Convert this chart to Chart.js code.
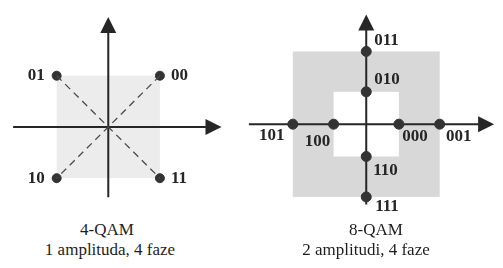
<!DOCTYPE html>
<html>
<head>
<meta charset="utf-8">
<script src="https://cdn.jsdelivr.net/npm/chart.js@4.4.1/dist/chart.umd.min.js"></script>
<style>
    body { margin: 0; background: #fff; width: 503px; height: 268px; position: relative; overflow: hidden; font-family: "Liberation Serif", "Times New Roman", serif; }
    canvas { position: absolute; top: 0; }
    #qam4Chart { left: 0; }
    #qam8Chart { left: 240px; }
    .caption { position: absolute; text-align: center; font-size: 17px; line-height: 20px; color: #1e1e1e; white-space: nowrap; width: 200px; }
</style>
</head>
<body>
<canvas id="qam4Chart" width="250" height="215"></canvas>
<canvas id="qam8Chart" width="263" height="220"></canvas>
<div class="caption" style="left:7px;top:220px">4-QAM</div>
<div class="caption" style="left:10px;top:240px">1 amplituda, 4 faze</div>
<div class="caption" style="left:276px;top:220px">8-QAM</div>
<div class="caption" style="left:266px;top:240px">2 amplitudi, 4 faze</div>

<script>
// Data: 4-QAM constellation (1 amplitude, 4 phases)
const qam4Labels = ['01', '00', '10', '11'];
const qam4I = [-1, 1, -1, 1];
const qam4Q = [1, 1, -1, -1];
const qam4Amps = [1];

// Data: 8-QAM constellation (2 amplitudes, 4 phases)
const qam8Labels = ['011', '010', '101', '100', '000', '001', '110', '111'];
const qam8I = [0, 0, -2.25, -1, 1, 2.25, 0, 0];
const qam8Q = [2.25, 1, 0, 0, 0, 0, -1, -2.25];
const qam8Amps = [1, 2.25];

// Label placement (pixels relative to point)
const qam4LabelPos = [
    { dx: -12, dy: 0, align: 'right' }, { dx: 11, dy: 0, align: 'left' },
    { dx: -12, dy: 0, align: 'right' }, { dx: 11, dy: 0, align: 'left' }
];
const qam8LabelPos = [
    { dx: 8, dy: -11, align: 'left' }, { dx: 8, dy: -12, align: 'left' },
    { dx: -21, dy: 11, align: 'center' }, { dx: -16, dy: 17, align: 'center' },
    { dx: 16, dy: 12, align: 'center' }, { dx: 19, dy: 12, align: 'center' },
    { dx: 7, dy: 14, align: 'left' }, { dx: 9, dy: 10, align: 'left' }
];

const toPoints = (xs, ys) => xs.map((x, i) => ({ x: x, y: ys[i] }));

// draws shaded squares, axes with arrows and bit labels
const constellationPlugin = {
    id: 'constellation',
    beforeDatasetsDraw(chart, args, opts) {
        const ctx = chart.ctx;
        const sx = chart.scales.x, sy = chart.scales.y;
        ctx.save();
        // squares, biggest first, alternating gray / white
        const amps = opts.amps.slice().sort((a, b) => b - a);
        amps.forEach((a, i) => {
            ctx.fillStyle = i % 2 === 0 ? opts.fill : '#ffffff';
            const l = sx.getPixelForValue(-a), r = sx.getPixelForValue(a);
            const t = sy.getPixelForValue(a), b = sy.getPixelForValue(-a);
            ctx.fillRect(l, t, r - l, b - t);
        });
        // axes
        const x0 = sx.getPixelForValue(0), y0 = sy.getPixelForValue(0);
        const xl = sx.getPixelForValue(opts.axisX[0]), xr = sx.getPixelForValue(opts.axisX[1]);
        const yb = sy.getPixelForValue(opts.axisY[0]), yt = sy.getPixelForValue(opts.axisY[1]);
        const al = opts.arrow;
        ctx.strokeStyle = '#262626';
        ctx.fillStyle = '#262626';
        ctx.lineWidth = 2;
        ctx.beginPath();
        ctx.moveTo(xl, y0); ctx.lineTo(xr - al + 2, y0);
        ctx.moveTo(x0, yb); ctx.lineTo(x0, yt + al - 2);
        ctx.stroke();
        ctx.beginPath();
        ctx.moveTo(xr, y0); ctx.lineTo(xr - al, y0 - al / 2); ctx.lineTo(xr - al, y0 + al / 2);
        ctx.closePath();
        ctx.fill();
        ctx.beginPath();
        ctx.moveTo(x0, yt); ctx.lineTo(x0 - al / 2, yt + al); ctx.lineTo(x0 + al / 2, yt + al);
        ctx.closePath();
        ctx.fill();
        ctx.restore();
    },
    afterDatasetsDraw(chart, args, opts) {
        const ctx = chart.ctx;
        const meta = chart.getDatasetMeta(chart.data.datasets.length - 1);
        ctx.save();
        ctx.font = 'bold 17px "Liberation Serif", serif';
        ctx.fillStyle = '#262626';
        ctx.textBaseline = 'middle';
        meta.data.forEach((pt, i) => {
            const p = opts.labelPos[i];
            ctx.textAlign = p.align;
            ctx.fillText(opts.labels[i], pt.x + p.dx, pt.y + p.dy);
        });
        ctx.restore();
    }
};

function makeChart(id, datasets, range, pluginOpts) {
    return new Chart(document.getElementById(id).getContext('2d'), {
        type: 'scatter',
        data: { datasets: datasets },
        options: {
            responsive: false,
            animation: false,
            layout: { padding: 0 },
            scales: {
                x: { type: 'linear', display: false, min: range.x[0], max: range.x[1] },
                y: { type: 'linear', display: false, min: range.y[0], max: range.y[1] }
            },
            plugins: {
                legend: { display: false },
                tooltip: { enabled: false },
                constellation: pluginOpts
            }
        },
        plugins: [constellationPlugin]
    });
}

document.addEventListener('DOMContentLoaded', function() {
    // 1. 4-QAM
    const pts4 = toPoints(qam4I, qam4Q);
    const dashed = {
        type: 'line', showLine: true, pointRadius: 0, borderColor: '#4a4a4a',
        borderWidth: 1.3, borderDash: [7, 5], fill: false
    };
    makeChart('qam4Chart', [
        Object.assign({ data: [pts4[0], pts4[3]] }, dashed),
        Object.assign({ data: [pts4[1], pts4[2]] }, dashed),
        { data: pts4, pointRadius: 4.5, backgroundColor: '#333', borderColor: '#333' }
    ], { x: [-1.991, 2.639], y: [-1.611, 2.370] }, {
        amps: qam4Amps, fill: '#ececec', axisX: [-1.843, 2.194], axisY: [-1.370, 2.148],
        arrow: 16, labels: qam4Labels, labelPos: qam4LabelPos
    });

    // 2. 8-QAM
    makeChart('qam8Chart', [
        { data: toPoints(qam8I, qam8Q), pointRadius: 5, backgroundColor: '#333', borderColor: '#333' }
    ], { x: [-3.684, 4.006], y: [-2.778, 3.655] }, {
        amps: qam8Amps, fill: '#d8d8d8', axisX: [-3.596, 3.918], axisY: [-2.485, 3.392],
        arrow: 16, labels: qam8Labels, labelPos: qam8LabelPos
    });
});
</script>
</body>
</html>
